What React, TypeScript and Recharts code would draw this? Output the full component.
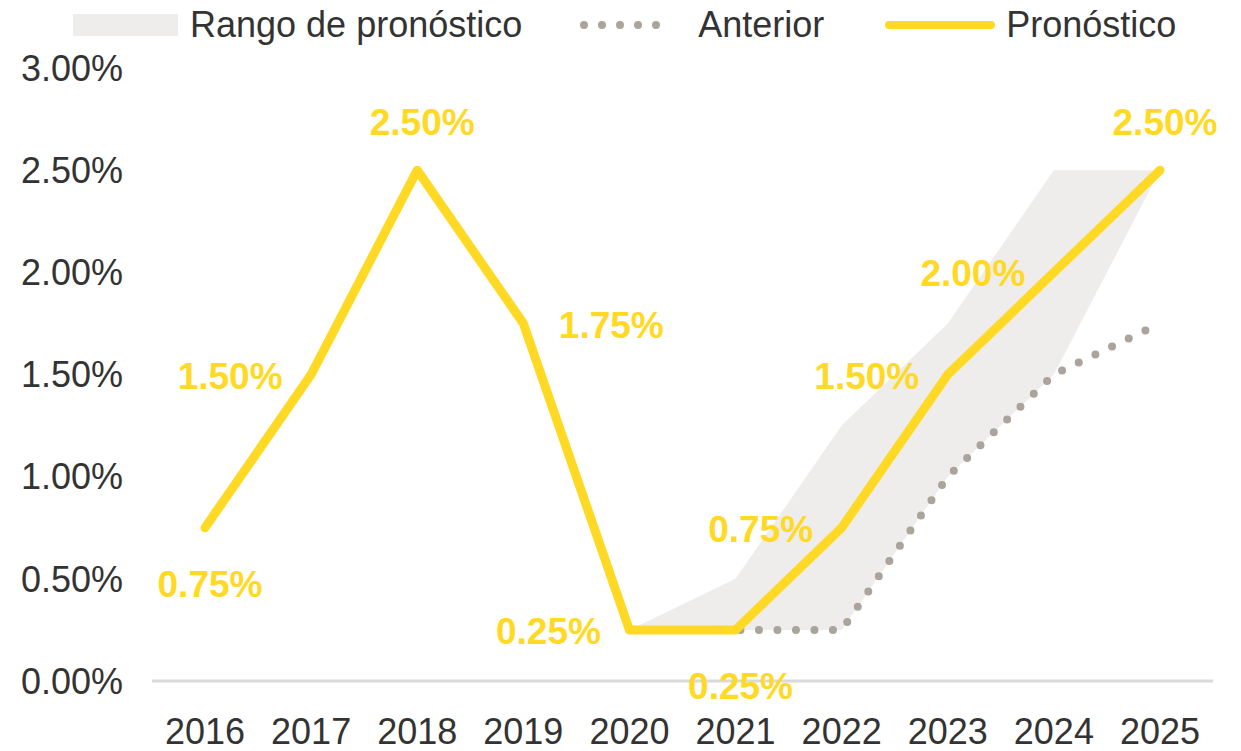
import React from 'react';
import { ComposedChart, Area, Line, XAxis, YAxis, Legend } from 'recharts';

const YEARS = ['2016', '2017', '2018', '2019', '2020', '2021', '2022', '2023', '2024', '2025'];
const PRONOSTICO = [0.75, 1.5, 2.5, 1.75, 0.25, 0.25, 0.75, 1.5, 2.0, 2.5];
const ANTERIOR = [null, null, null, null, 0.25, 0.25, 0.25, 1.0, 1.5, 1.75];
const RANGO_BAJO = [null, null, null, null, 0.25, 0.25, 0.25, 1.0, 1.5, 2.5];
const RANGO_ALTO = [null, null, null, null, 0.25, 0.5, 1.25, 1.75, 2.5, 2.5];
const Y_TICKS = [0, 0.5, 1, 1.5, 2, 2.5, 3];
const LABEL_PLACEMENT = ['bottom', 'left', 'top', 'right', 'left', 'bottom', 'left', 'left', 'left', 'top'];

const SERIES_NAMES = { rango: 'Rango de pronóstico', anterior: 'Anterior', pronostico: 'Pronóstico' };

const YELLOW = '#FFD923';
const GRAY_DOT = '#ABA49B';
const BAND = '#EEEDEB';
const TEXT = '#333333';
const FONT = '"Liberation Sans", Arial, sans-serif';

const data = YEARS.map((year, i) => ({
  year,
  pronostico: PRONOSTICO[i],
  anterior: ANTERIOR[i],
  rango: RANGO_BAJO[i] == null ? null : [RANGO_BAJO[i], RANGO_ALTO[i]],
}));

const fmt = (v: number) => `${v.toFixed(2)}%`;

const PointLabel = (props: any) => {
  const { x, y, value, index } = props;
  if (value == null || x == null || y == null) return null;
  const place = LABEL_PLACEMENT[index] || 'top';
  let dx = 5;
  let dy = -35;
  if (place === 'bottom') { dx = 5; dy = 69; }
  if (place === 'left') { dx = -81; dy = 14; }
  if (place === 'right') { dx = 88; dy = 15; }
  return (
    <text
      x={x + dx}
      y={y + dy}
      textAnchor="middle"
      fill={YELLOW}
      fontFamily={FONT}
      fontSize={37}
      fontWeight="bold"
    >
      {fmt(Number(value))}
    </text>
  );
};

const LegendContent = () => (
  <div
    style={{
      height: 50,
      width: 1241,
      display: 'flex',
      alignItems: 'center',
      fontFamily: FONT,
      fontSize: 36,
      color: TEXT,
      whiteSpace: 'nowrap',
      boxSizing: 'border-box',
      paddingLeft: 73,
    }}
  >
    <div style={{ width: 105, height: 22, background: BAND, marginRight: 12 }} />
    <span>{SERIES_NAMES.rango}</span>
    <svg width={98} height={12} style={{ marginLeft: 58, marginRight: 20 }}>
      <line x1={4} y1={6} x2={94} y2={6} stroke={GRAY_DOT} strokeWidth={8} strokeLinecap="round" strokeDasharray="0 18" />
    </svg>
    <span>{SERIES_NAMES.anterior}</span>
    <svg width={110} height={12} style={{ marginLeft: 61, marginRight: 11 }}>
      <line x1={4} y1={6} x2={106} y2={6} stroke={YELLOW} strokeWidth={8} strokeLinecap="round" />
    </svg>
    <span>{SERIES_NAMES.pronostico}</span>
  </div>
);

export default function App() {
  return (
    <div style={{ position: 'absolute', left: 0, top: 0, width: 1241, height: 751, background: '#fff' }}>
      <ComposedChart width={1241} height={751} data={data} margin={{ top: 18, right: 28, bottom: 0, left: 0 }}>
        <Legend verticalAlign="top" align="left" content={<LegendContent />} wrapperStyle={{ top: 0, left: 0 }} />
        <XAxis
          dataKey="year"
          height={70}
          padding={{ left: 53, right: 53 }}
          axisLine={{ stroke: '#D9D9D9', strokeWidth: 3 }}
          tickLine={false}
          tickMargin={31}
          tick={{ fill: TEXT, fontSize: 36, fontFamily: FONT }}
          interval={0}
        />
        <YAxis
          width={152}
          domain={[0, 3]}
          ticks={Y_TICKS}
          tickFormatter={fmt}
          axisLine={false}
          tickLine={false}
          tickMargin={23}
          tick={{ fill: TEXT, fontSize: 36, fontFamily: FONT }}
          interval={0}
        />
        <Area
          dataKey="rango"
          name={SERIES_NAMES.rango}
          type="linear"
          fill={BAND}
          fillOpacity={1}
          stroke="none"
          isAnimationActive={false}
          activeDot={false}
        />
        <Line
          dataKey="anterior"
          name={SERIES_NAMES.anterior}
          type="linear"
          stroke={GRAY_DOT}
          strokeWidth={8}
          strokeLinecap="round"
          strokeDasharray="0 18.5"
          dot={false}
          activeDot={false}
          isAnimationActive={false}
        />
        <Line
          dataKey="pronostico"
          name={SERIES_NAMES.pronostico}
          type="linear"
          stroke={YELLOW}
          strokeWidth={9}
          strokeLinecap="round"
          strokeLinejoin="round"
          dot={false}
          activeDot={false}
          isAnimationActive={false}
          label={<PointLabel />}
        />
      </ComposedChart>
    </div>
  );
}
